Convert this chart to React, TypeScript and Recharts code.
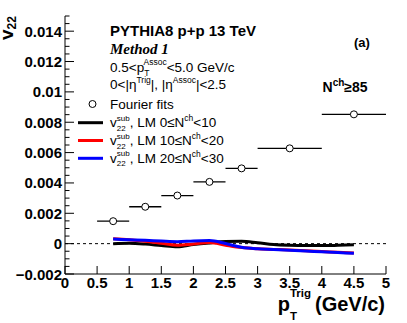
import React from "react";
import { ComposedChart, Line, Scatter, ErrorBar, XAxis, YAxis, ReferenceLine } from "recharts";

const FONT = "'Liberation Sans', Arial, Helvetica, sans-serif";

// Fourier fits, one point per pT(trig) bin
const binCenters = [0.75, 1.25, 1.75, 2.25, 2.75, 3.5, 4.5];
const binHalfWidths = [0.25, 0.25, 0.25, 0.25, 0.25, 0.5, 0.5];
const fourierV22 = [0.00148, 0.00243, 0.00317, 0.00407, 0.00496, 0.00628, 0.00852];

// v22 sub curves, LM reference classes
const curveX = [0.75, 1, 1.25, 1.5, 1.75, 2, 2.25, 2.5, 2.75, 3, 3.25, 3.5, 3.75, 4, 4.25, 4.5];
const v22LM0 = [0, 0.00002, -0.00003, -0.00012, -0.0002, -0.00006, 0.00005, 0.00014, 0.00016, 0.00006, -0.00006, -0.00011, -0.00013, -0.00013, -0.00011, -0.00008];
const v22LM10 = [0.00033, 0.00026, 0.00016, 0.00003, -0.0001, -0.00002, 0.00008, -0.0001, -0.00026, -0.00034, -0.00038, -0.00042, -0.00047, -0.00052, -0.00057, -0.00062];
const v22LM20 = [0.0003, 0.00026, 0.00022, 0.00017, 0.00013, 0.00018, 0.0002, 0.00001, -0.00024, -0.00034, -0.00038, -0.00043, -0.00048, -0.00054, -0.00059, -0.00064];

const xTicks = [0, 0.5, 1, 1.5, 2, 2.5, 3, 3.5, 4, 4.5, 5];
const yTicks = [-0.002, 0, 0.002, 0.004, 0.006, 0.008, 0.01, 0.012, 0.014];

const fitData = binCenters.map((x, i) => ({ x, v: fourierV22[i], ex: binHalfWidths[i] }));
const lm0Data = curveX.map((x, i) => ({ x, v: v22LM0[i] }));
const lm10Data = curveX.map((x, i) => ({ x, v: v22LM10[i] }));
const lm20Data = curveX.map((x, i) => ({ x, v: v22LM20[i] }));

// minor ticks every 0.0005 on y
const yMinor: number[] = [];
for (let i = 0; i <= 34; i++) yMinor.push(Math.round((-0.002 + i * 0.0005) * 1e5) / 1e5);
const isMajorY = (v: number) => yTicks.some((t) => Math.abs(t - v) < 1e-9);
const fmtY = (v: number) => (v === 0 ? "0" : String(v).replace("-", "\u2212"));

const LeftTick = (props: any) => {
  const { x, y, payload } = props;
  const major = isMajorY(payload.value);
  return (
    <g>
      <line x1={x} y1={y} x2={x + (major ? 9 : 4.5)} y2={y} stroke="#000" />
      {major && (
        <text x={x - 3} y={y + 5.5} textAnchor="end" fontFamily={FONT} fontWeight="bold" fontSize={15} fill="#000">
          {fmtY(payload.value)}
        </text>
      )}
    </g>
  );
};

const RightTick = (props: any) => {
  const { x, y, payload } = props;
  const major = isMajorY(payload.value);
  return <line x1={x} y1={y} x2={x - (major ? 9 : 4.5)} y2={y} stroke="#000" />;
};

const BottomTick = (props: any) => {
  const { x, y, payload } = props;
  return (
    <g>
      <line x1={x} y1={y} x2={x} y2={y - 8} stroke="#000" />
      <text x={x} y={y + 14} textAnchor="middle" fontFamily={FONT} fontWeight="bold" fontSize={15} fill="#000">
        {payload.value}
      </text>
    </g>
  );
};

const TopTick = (props: any) => {
  const { x, y } = props;
  return <line x1={x} y1={y} x2={x} y2={y + 8} stroke="#000" />;
};

const FitMarker = (p: any) => <circle cx={p.cx} cy={p.cy} r={3.5} fill="#fff" stroke="#000" strokeWidth={1} />;

const Labels = () => (
  <svg width={407} height={323} style={{ position: "absolute", left: 0, top: 0, pointerEvents: "none" }} fontFamily={FONT} fill="#000">
    <text transform="translate(13,40) rotate(-90)" fontSize={19} fontWeight="bold">
      v<tspan dy={3} fontSize={12}>22</tspan>
    </text>

    <text x={110} y={36} fontSize={15} fontWeight="bold">PYTHIA8 p+p 13 TeV</text>
    <text x={110} y={54} fontSize={15} fontWeight="bold" fontStyle="italic" fontFamily="'Liberation Serif', 'Times New Roman', serif">Method 1</text>
    <text x={110} y={72} fontSize={13.5}>
      0.5&lt;p<tspan dy={4} fontSize={8.5}>T</tspan>
      <tspan dx={-5.2} dy={-11} fontSize={8.5}>Assoc</tspan>
      <tspan dy={7}>&lt;5.0 GeV/c</tspan>
    </text>
    <text x={110} y={89} fontSize={13.5}>
      0&lt;|η<tspan dy={-6} fontSize={8.5}>Trig</tspan>
      <tspan dy={6}>|, |η</tspan>
      <tspan dy={-6} fontSize={8.5}>Assoc</tspan>
      <tspan dy={6}>|&lt;2.5</tspan>
    </text>

    <circle cx={92.5} cy={104} r={3.5} fill="#fff" stroke="#000" strokeWidth={1} />
    <text x={110} y={108.5} fontSize={13.5}>Fourier fits</text>

    {[
      { color: "#000", y: 122.7, label: "0\u2264N", tail: "<10" },
      { color: "#ff0000", y: 140.5, label: "10\u2264N", tail: "<20" },
      { color: "#0000ff", y: 158.3, label: "20\u2264N", tail: "<30" },
    ].map((e) => (
      <g key={e.label}>
        <line x1={78} x2={103} y1={e.y} y2={e.y} stroke={e.color} strokeWidth={3} />
        <text x={110} y={e.y + 4.5} fontSize={13.5}>
          v<tspan dy={3.5} fontSize={8}>22</tspan>
          <tspan dx={-8.9} dy={-10} fontSize={8}>sub</tspan>
          <tspan dy={6.5}>, LM {e.label}</tspan>
          <tspan dy={-6} fontSize={8.5}>ch</tspan>
          <tspan dy={6}>{e.tail}</tspan>
        </text>
      </g>
    ))}

    <text x={354} y={47} fontSize={13} fontWeight="bold">(a)</text>
    <text x={322.5} y={92} fontSize={14} fontWeight="bold">
      N<tspan dy={-6} fontSize={10}>ch</tspan>
      <tspan dy={6}>≥85</tspan>
    </text>

    <text x={277.7} y={311} fontSize={20} fontWeight="bold">
      p<tspan dy={9} fontSize={11.5}>T</tspan>
      <tspan dx={-7} dy={-23} fontSize={11.5}>Trig</tspan>
    </text>
    <text x={315} y={311} fontSize={20} fontWeight="bold">(GeV/c)</text>
  </svg>
);

export default function App() {
  return (
    <div style={{ position: "absolute", left: 0, top: 0, width: 407, height: 323, background: "#fff" }}>
      <ComposedChart width={407} height={323} margin={{ top: 16, right: 21, bottom: 19, left: 10 }}>
        <XAxis xAxisId="bottom" type="number" dataKey="x" domain={[0, 5]} ticks={xTicks} interval={0}
          tickSize={0} tickMargin={0} tickLine={false} height={30} allowDataOverflow
          axisLine={{ stroke: "#000" }} tick={<BottomTick />} />
        <XAxis xAxisId="top" orientation="top" type="number" dataKey="x" domain={[0, 5]} ticks={xTicks} interval={0}
          tickSize={0} tickMargin={0} tickLine={false} height={0} allowDataOverflow
          axisLine={{ stroke: "#000" }} tick={<TopTick />} />
        <YAxis yAxisId="left" type="number" dataKey="v" domain={[-0.002, 0.015]} ticks={yMinor} interval={0}
          tickSize={0} tickMargin={0} tickLine={false} width={55} allowDataOverflow
          axisLine={{ stroke: "#000" }} tick={<LeftTick />} />
        <YAxis yAxisId="right" orientation="right" type="number" dataKey="v" domain={[-0.002, 0.015]} ticks={yMinor} interval={0}
          tickSize={0} tickMargin={0} tickLine={false} width={0} allowDataOverflow
          axisLine={{ stroke: "#000" }} tick={<RightTick />} />

        <ReferenceLine xAxisId="bottom" yAxisId="left" y={0} stroke="#000" strokeDasharray="3 3" />

        <Line xAxisId="bottom" yAxisId="left" data={lm0Data} dataKey="v" type="monotone" stroke="#000" strokeWidth={3} dot={false} isAnimationActive={false} />
        <Line xAxisId="bottom" yAxisId="left" data={lm10Data} dataKey="v" type="monotone" stroke="#ff0000" strokeWidth={3} dot={false} isAnimationActive={false} />
        <Line xAxisId="bottom" yAxisId="left" data={lm20Data} dataKey="v" type="monotone" stroke="#0000ff" strokeWidth={3} dot={false} isAnimationActive={false} />

        <Scatter xAxisId="bottom" yAxisId="left" data={fitData} dataKey="v" shape={FitMarker} isAnimationActive={false}>
          <ErrorBar dataKey="ex" direction="x" width={0} stroke="#000" strokeWidth={1.3} isAnimationActive={false} />
        </Scatter>
      </ComposedChart>
      <Labels />
    </div>
  );
}
